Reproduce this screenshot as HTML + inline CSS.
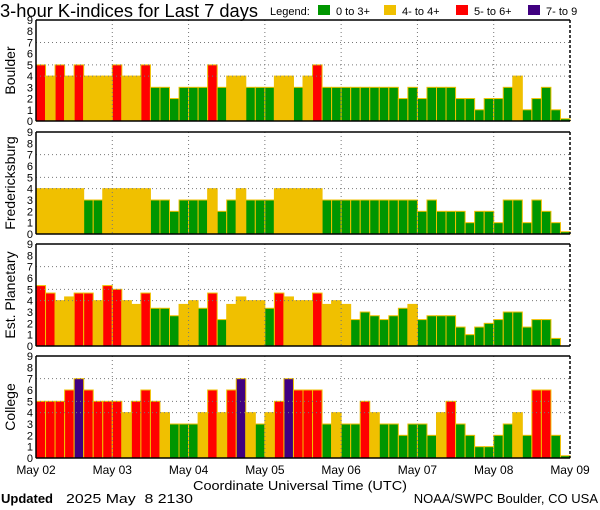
<!DOCTYPE html>
<html><head><meta charset="utf-8"><style>
html,body{margin:0;padding:0;background:#fff;}
svg{display:block;}
text{font-family:"Liberation Sans",sans-serif;fill:#000;white-space:pre;}
</style></head><body>
<svg id="s" width="600" height="510" xmlns="http://www.w3.org/2000/svg">
<text x="0" y="17" font-size="18.5" textLength="258" lengthAdjust="spacingAndGlyphs">3-hour K-indices for Last 7 days</text>
<text x="270" y="15" font-size="11">Legend:</text>
<rect x="318" y="5" width="12" height="10" fill="#009600"/><text x="336" y="15" font-size="11">0 to 3+</text>
<rect x="384" y="5" width="12" height="10" fill="#f0c000"/><text x="402" y="15" font-size="11">4- to 4+</text>
<rect x="456" y="5" width="12" height="10" fill="#ff0000"/><text x="474" y="15" font-size="11">5- to 6+</text>
<rect x="528" y="5" width="12" height="10" fill="#400080"/><text x="546" y="15" font-size="11">7- to 9</text>
<text x="193" y="490" font-size="13" textLength="214" lengthAdjust="spacingAndGlyphs">Coordinate Universal Time (UTC)</text>
<text x="1" y="503" font-size="13" font-family="Liberation Serif" font-weight="bold">Updated</text>
<text x="66" y="503" font-size="13" textLength="127" lengthAdjust="spacingAndGlyphs">2025 May  8 2130</text>
<text x="598" y="503" font-size="13" text-anchor="end">NOAA/SWPC Boulder, CO USA</text>
</svg>
<script>
var s=document.getElementById('s'),NS='http://www.w3.org/2000/svg';
function el(t,a,txt){var e=document.createElementNS(NS,t);for(var k in a)e.setAttribute(k,a[k]);if(txt!=null)e.textContent=txt;s.appendChild(e);return e;}
var data=[
[5,4,5,4,5,4,4,4,5,4,4,5,3,3,2,3,3,3,5,3,4,4,3,3,3,4,4,3,4,5,3,3,3,3,3,3,3,3,2,3,2,3,3,3,2,2,1,2,2,3,4,1,2,3,1,0.2],
[4,4,4,4,4,3,3,4,4,4,4,4,3,3,2,3,3,3,4,2,3,4,3,3,3,4,4,4,4,4,3,3,3,3,3,3,3,3,3,3,2,3,2,2,2,1,2,2,1,3,3,1,3,2,1,0.2],
[5.33,4.67,4,4.33,4.67,4.67,4,5.33,5,4,3.67,4.67,3.33,3.33,2.67,3.67,4,3.33,4.67,2.33,3.67,4.33,4,4,3.33,4.67,4.33,4,4,4.67,3.67,4,3.67,2.33,3,2.67,2.33,2.67,3.33,3.67,2.33,2.67,2.67,2.67,1.67,1,1.67,2,2.33,3,3,1.67,2.33,2.33,0.67,0],
[5,5,5,6,7,6,5,5,5,4,5,6,5,4,3,3,3,4,6,4,6,7,4,3,4,5,7,6,6,6,3,4,3,3,5,4,3,3,2,3,3,2,4,5,3,2,1,1,2,3,4,2,6,6,2,0.2]];
var tops=[20,132,244,356],bots=[121,234,346,458],names=['Boulder','Fredericksburg','Est. Planetary','College'];
var x0=36,x1=570,bw=(x1-x0)/56;
function col(v){return v>=6.6?'#400080':v>=4.6?'#ff0000':v>=3.6?'#f0c000':'#009600';}
for(var p=0;p<4;p++){
 var t=tops[p],b=bots[p],u=(b-t)/9;
 for(var i=0;i<56;i++){var v=data[p][i];if(v<=0)continue;var h=v*u;
  el('rect',{x:(x0+i*bw).toFixed(2),y:(b-h).toFixed(2),width:bw.toFixed(2),height:h.toFixed(2),fill:col(v),stroke:'#f0c000','stroke-width':1});}
 [4,5,7].forEach(function(k){var y=b-k*u;el('line',{x1:x0,x2:x1,y1:y,y2:y,stroke:'#777','stroke-width':1,'stroke-dasharray':'1,3'});});
 for(var d=1;d<7;d++){var x=x0+d*8*bw;el('line',{x1:x,x2:x,y1:t,y2:b,stroke:'#777','stroke-width':1,'stroke-dasharray':'1,3'});}
 el('line',{x1:x0,x2:x1,y1:t,y2:t,stroke:'#000','stroke-width':1.5});
 el('line',{x1:x0,x2:x1,y1:b,y2:b,stroke:'#000','stroke-width':1.5});
 el('line',{x1:x0,x2:x0,y1:t,y2:b,stroke:'#000','stroke-width':1.5});
 el('line',{x1:x1,x2:x1,y1:t,y2:b,stroke:'#000','stroke-width':1.5,'stroke-dasharray':'3,2'});
 for(var k=0;k<10;k++){el('text',{x:33,y:(b-k*u+4).toFixed(1),'font-size':11,'text-anchor':'end'},String(k));}
 var cy=(t+b)/2;el('text',{x:0,y:0,'font-size':14,'text-anchor':'middle',transform:'translate(15,'+cy+') rotate(-90)'},names[p]);
}
var days=['May 02','May 03','May 04','May 05','May 06','May 07','May 08','May 09'];
for(var d=0;d<8;d++){el('text',{x:(x0+d*8*bw).toFixed(1),y:474,'font-size':12,'text-anchor':'middle'},days[d]);}
</script>
</body></html>
